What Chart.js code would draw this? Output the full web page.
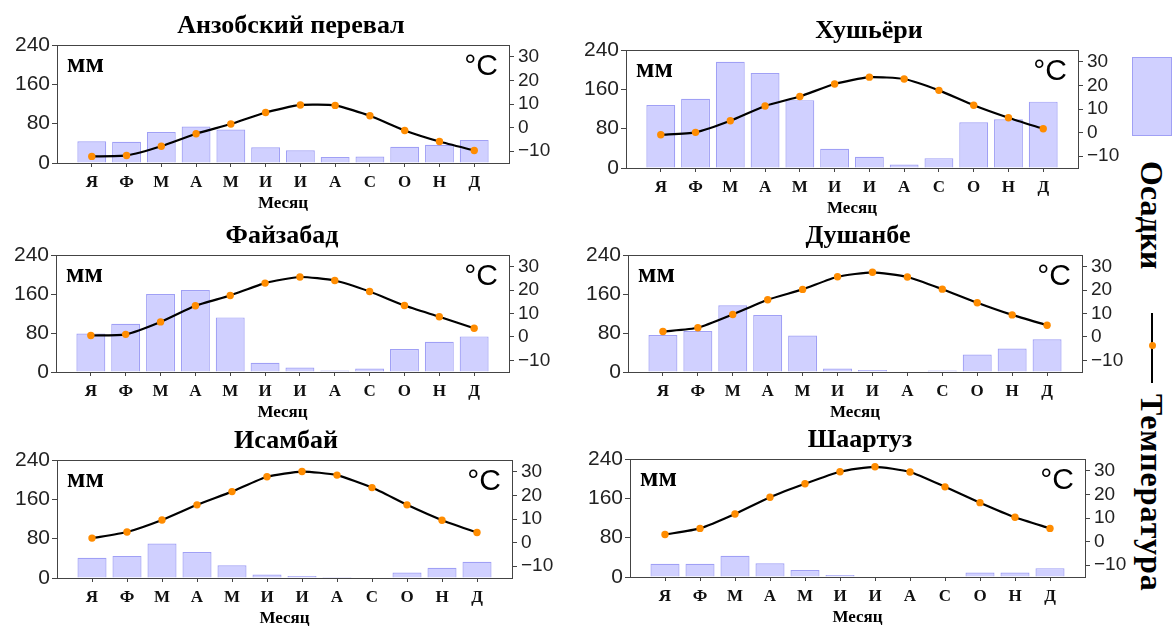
<!DOCTYPE html>
<html><head><meta charset="utf-8">
<script src="https://cdn.jsdelivr.net/npm/chart.js@4.4.1/dist/chart.umd.min.js"></script>
<style>
html,body{margin:0;padding:0;background:#fff;}
body{width:1175px;height:626px;overflow:hidden;position:relative;}
canvas{position:absolute;}
.lg{position:absolute;}
.vt{position:absolute;writing-mode:vertical-rl;font:bold 32px "Liberation Serif","Times New Roman",serif;line-height:32px;color:#000;white-space:nowrap;}
</style></head><body>
<div class="lg" style="left:1132px;top:57px;width:40px;height:79px;background:rgba(200,200,255,0.85);border:1px solid #a0a0f5;box-sizing:border-box;"></div>
<div class="vt" style="left:1136px;top:161px;">Осадки</div>
<div class="lg" style="left:1151px;top:313px;width:2px;height:70px;background:#000;"></div>
<div class="lg" style="left:1148.5px;top:341.5px;width:7px;height:7px;border-radius:50%;background:#ff8c00;"></div>
<div class="vt" style="left:1136px;top:394px;letter-spacing:1px;">Температура</div>
<script>
const months = ['Я','Ф','М','А','М','И','И','А','С','О','Н','Д'];
const stations = ['Анзобский перевал','Хушьёри','Файзабад','Душанбе','Исамбай','Шаартуз'];
const precipTicks = [0, 80, 160, 240];
const tempTicks = [-10, 0, 10, 20, 30];

const precipAnzob = [44, 43, 63, 74, 68, 32, 26, 12, 13, 33, 37, 47];
const tempAnzob = [-12.2, -11.8, -7.9, -2.6, 1.5, 6.4, 9.6, 9.4, 5.0, -1.2, -5.9, -9.7];
const precipKhushyori = [128, 141, 216, 193, 138, 39, 23, 7, 20, 93, 99, 135];
const tempKhushyori = [-0.9, 0.1, 5.0, 11.3, 15.3, 20.6, 23.5, 22.7, 17.9, 11.6, 6.3, 1.6];
const precipFaizabad = [79, 99, 160, 168, 112, 19, 9, 3, 7, 47, 62, 73];
const tempFaizabad = [0.6, 1.1, 6.4, 13.3, 17.7, 23.0, 25.6, 24.1, 19.4, 13.4, 8.6, 3.7];
const precipDushanbe = [76, 84, 137, 117, 75, 7, 4, 1, 3, 36, 48, 67];
const tempDushanbe = [2.3, 3.9, 9.6, 15.9, 20.3, 25.7, 27.6, 25.6, 20.4, 14.6, 9.4, 5.0];
const precipIsambay = [41, 45, 70, 53, 26, 7, 4, 2, 1, 11, 21, 33];
const tempIsambay = [1.9, 4.5, 9.6, 16.0, 21.6, 27.9, 30.1, 28.6, 23.3, 16.0, 9.5, 4.3];
const precipShaartuz = [27, 27, 43, 28, 14, 4, 1, 0, 0, 9, 9, 18];
const tempShaartuz = [3.0, 5.6, 11.7, 18.8, 24.5, 29.6, 31.7, 29.5, 23.2, 16.5, 10.3, 5.6];

// layout: plot box [left, right, top, bottom] and title centre x
const panels = [
  {name: stations[0], precip: precipAnzob, temp: tempAnzob, box: [57, 509, 45, 163], tx: 291},
  {name: stations[1], precip: precipKhushyori, temp: tempKhushyori, box: [626, 1078, 50, 168], tx: 869},
  {name: stations[2], precip: precipFaizabad, temp: tempFaizabad, box: [56, 509, 255, 372], tx: 282},
  {name: stations[3], precip: precipDushanbe, temp: tempDushanbe, box: [628, 1082, 255, 372], tx: 858},
  {name: stations[4], precip: precipIsambay, temp: tempIsambay, box: [57, 512, 460, 578], tx: 286},
  {name: stations[5], precip: precipShaartuz, temp: tempShaartuz, box: [630, 1085, 459, 577], tx: 860}
];

const L = 70, R = 70, T = 45, B = 50;
const SERIF = '"Liberation Serif", "Times New Roman", serif';
const SANS = '"Liberation Sans", Arial, sans-serif';
Chart.defaults.font.family = SANS;

panels.forEach(p => {
  const [l, r, t, b] = p.box;
  const c = document.createElement('canvas');
  const w = r - l + L + R, h = b - t + T + B;
  const cl = l - L;
  c.width = w; c.height = h;
  c.style.width = w + 'px'; c.style.height = h + 'px';
  c.style.left = cl + 'px'; c.style.top = (t - T) + 'px';
  document.body.appendChild(c);

  const decor = {
    id: 'decor',
    afterDraw(chart) {
      const a = chart.chartArea, ctx = chart.ctx;
      ctx.save();
      ctx.strokeStyle = '#444'; ctx.lineWidth = 1;
      ctx.beginPath(); ctx.moveTo(a.left, a.top + 0.5); ctx.lineTo(a.right, a.top + 0.5); ctx.stroke();
      ctx.fillStyle = '#000';
      ctx.textBaseline = 'alphabetic';
      ctx.font = 'bold 26px ' + SERIF; ctx.textAlign = 'center';
      ctx.fillText(p.name, p.tx - cl, a.top - 12);
      ctx.font = 'bold 27px ' + SERIF; ctx.textAlign = 'left';
      ctx.fillText('мм', a.left + 10, a.top + 27);
      ctx.font = '30px ' + SANS; ctx.textAlign = 'right';
      ctx.fillText('°C', a.right - 11, a.top + 30);
      ctx.font = 'bold 17px ' + SERIF; ctx.textAlign = 'center';
      ctx.fillText('Месяц', (a.left + a.right) / 2, a.bottom + 45);
      ctx.restore();
    }
  };

  new Chart(c, {
    type: 'bar',
    data: {
      datasets: [
        {type: 'line', data: p.temp.map((v, i) => ({x: i, y: v})), yAxisID: 'y1', xAxisID: 'x',
         borderColor: '#000', borderWidth: 2.2, pointBackgroundColor: '#ff8c00', pointBorderColor: '#ff8c00',
         pointRadius: 3.7, pointBorderWidth: 0, tension: 0.18, order: 0},
        {type: 'bar', data: p.precip.map((v, i) => ({x: i, y: v})), yAxisID: 'y', xAxisID: 'x',
         backgroundColor: 'rgba(200,200,255,0.85)', borderColor: '#a0a0f5', borderWidth: 1.2,
         categoryPercentage: 0.83, barPercentage: 1, order: 1}
      ]
    },
    options: {
      responsive: false, animation: false, devicePixelRatio: 1,
      layout: {padding: {top: T, left: 0, right: 0, bottom: 0}},
      plugins: {legend: {display: false}, tooltip: {enabled: false}},
      scales: {
        x: {
          type: 'linear', min: -1, max: 12, offset: false,
          afterBuildTicks: s => { s.ticks = months.map((m, i) => ({value: i})); },
          ticks: {callback: v => months[v], autoSkip: false, maxRotation: 0, padding: 5, color: '#111',
                  font: {family: SERIF, weight: 'bold', size: 17}},
          grid: {display: true, drawOnChartArea: false, tickLength: 4, color: '#444', offset: false},
          border: {color: '#444', width: 1},
          afterFit: s => { s.height = B; }
        },
        y: {
          position: 'left', min: 0, max: 240,
          afterBuildTicks: s => { s.ticks = precipTicks.map(v => ({value: v})); },
          ticks: {padding: 2, color: '#222', font: {size: 21}},
          grid: {drawOnChartArea: false, tickLength: 5, color: '#444'},
          border: {color: '#444', width: 1},
          afterFit: s => { s.width = L; }
        },
        y1: {
          position: 'right', min: -15, max: 35,
          afterBuildTicks: s => { s.ticks = tempTicks.map(v => ({value: v})); },
          ticks: {padding: 4, color: '#222', font: {size: 19}, callback: v => v < 0 ? '\u2212' + Math.abs(v) : String(v)},
          grid: {drawOnChartArea: false, tickLength: 5, color: '#444'},
          border: {color: '#444', width: 1},
          afterFit: s => { s.width = R; }
        }
      }
    },
    plugins: [decor]
  });
});
</script>
</body></html>
